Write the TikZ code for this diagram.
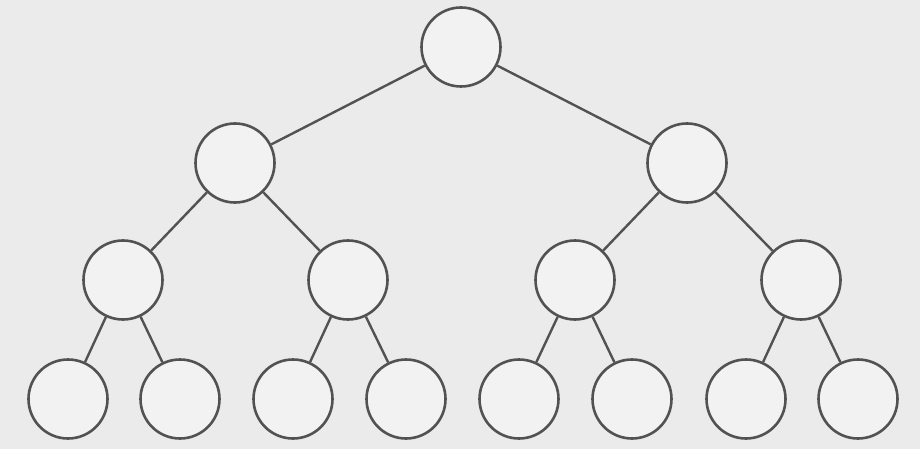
\documentclass[tikz,border=0pt]{standalone}
\begin{document}
\begin{tikzpicture}[x=1pt,y=-1pt,
  tn/.style={circle,draw=black!68,line width=2.6pt,fill=white!95!black,minimum size=79pt,inner sep=0pt},
  ed/.style={draw=black!68,line width=2.4pt}]
\fill[white!92!black] (0,0) rectangle (920,449);
\useasboundingbox (0,0) rectangle (920,449);
\node[tn] (r) at (461,47) {};
\node[tn] (a) at (235,163) {};
\node[tn] (b) at (687,163) {};
\node[tn] (a1) at (123,280) {};
\node[tn] (a2) at (348,280) {};
\node[tn] (b1) at (575,280) {};
\node[tn] (b2) at (801,280) {};
\node[tn] (l1) at (68,399) {};
\node[tn] (l2) at (180,399) {};
\node[tn] (l3) at (293,399) {};
\node[tn] (l4) at (406,399) {};
\node[tn] (l5) at (519,399) {};
\node[tn] (l6) at (632,399) {};
\node[tn] (l7) at (746,399) {};
\node[tn] (l8) at (858,399) {};
\foreach \p/\c in {r/a,r/b,a/a1,a/a2,b/b1,b/b2,a1/l1,a1/l2,a2/l3,a2/l4,b1/l5,b1/l6,b2/l7,b2/l8}
  \draw[ed] (\p) -- (\c);
\end{tikzpicture}
\end{document}
